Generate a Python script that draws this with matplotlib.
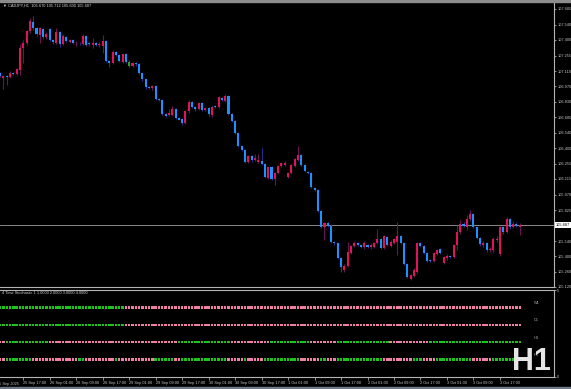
import matplotlib.pyplot as plt
import matplotlib.transforms as mtransforms
from matplotlib.patches import Rectangle

plt.rcParams['font.family'] = ['Liberation Sans', 'DejaVu Sans']

#///////////////////////////////////////////////////////////////
# CADJPY H1 candles, 25 Sep 10:00 -> 3 Oct 23:00 (158 bars)
#///////////////////////////////////////////////////////////////
opens = [
    107.094, 107.048, 107.066, 107.057, 107.094, 107.085, 107.122, 107.325, 107.371, 107.482,
    107.565, 107.509, 107.445, 107.500, 107.426, 107.500, 107.399, 107.371, 107.472, 107.362,
    107.426, 107.380, 107.399, 107.366, 107.375, 107.362, 107.436, 107.371, 107.352, 107.371,
    107.352, 107.343, 107.389, 107.205, 107.186, 107.288, 107.260, 107.195, 107.269, 107.195,
    107.158, 107.186, 107.177, 107.094, 107.038, 106.964, 106.955, 106.974, 106.854, 106.844,
    106.715, 106.705, 106.705, 106.761, 106.678, 106.669, 106.632, 106.742, 106.826, 106.780,
    106.761, 106.817, 106.752, 106.770, 106.705, 106.789, 106.780, 106.863, 106.835, 106.881,
    106.715, 106.650, 106.540, 106.420, 106.383, 106.272, 106.327, 106.290, 106.272, 106.281,
    106.253, 106.124, 106.226, 106.114, 106.170, 106.235, 106.244, 106.133, 106.170, 106.235,
    106.290, 106.336, 106.244, 106.179, 106.170, 106.032, 106.013, 105.819, 105.671, 105.708,
    105.680, 105.533, 105.523, 105.385, 105.274, 105.311, 105.431, 105.496, 105.523, 105.505,
    105.487, 105.505, 105.487, 105.487, 105.523, 105.560, 105.477, 105.579, 105.496, 105.523,
    105.533, 105.588, 105.523, 105.330, 105.191, 105.219, 105.256, 105.523, 105.496, 105.431,
    105.367, 105.357, 105.422, 105.468, 105.339, 105.385, 105.404, 105.394, 105.505, 105.625,
    105.699, 105.671, 105.745, 105.791, 105.671, 105.570, 105.505, 105.523, 105.459, 105.459,
    105.551, 105.422, 105.671, 105.625, 105.745, 105.671, 105.699, 105.670,
]
highs = [
    107.103, 107.075, 107.075, 107.112, 107.103, 107.140, 107.362, 107.399, 107.491, 107.602,
    107.620, 107.519, 107.519, 107.509, 107.472, 107.509, 107.408, 107.509, 107.482, 107.454,
    107.436, 107.408, 107.408, 107.389, 107.380, 107.454, 107.445, 107.380, 107.417, 107.380,
    107.380, 107.445, 107.399, 107.214, 107.306, 107.297, 107.269, 107.279, 107.279, 107.214,
    107.195, 107.195, 107.186, 107.103, 107.048, 106.974, 106.983, 106.983, 106.863, 106.854,
    106.724, 106.761, 106.789, 106.770, 106.687, 106.678, 106.752, 106.844, 106.835, 106.789,
    106.826, 106.826, 106.780, 106.780, 106.789, 106.798, 106.881, 106.872, 106.900, 106.890,
    106.724, 106.660, 106.549, 106.429, 106.392, 106.336, 106.336, 106.346, 106.346, 106.401,
    106.262, 106.235, 106.235, 106.179, 106.244, 106.272, 106.281, 106.179, 106.253, 106.309,
    106.420, 106.346, 106.253, 106.188, 106.179, 106.041, 106.022, 105.828, 105.717, 105.717,
    105.699, 105.542, 105.533, 105.394, 105.330, 105.533, 105.505, 105.542, 105.533, 105.514,
    105.542, 105.514, 105.523, 105.533, 105.653, 105.570, 105.597, 105.588, 105.551, 105.570,
    105.717, 105.597, 105.533, 105.339, 105.237, 105.293, 105.533, 105.533, 105.505, 105.440,
    105.376, 105.440, 105.468, 105.477, 105.404, 105.422, 105.413, 105.514, 105.690, 105.736,
    105.717, 105.782, 105.828, 105.801, 105.680, 105.579, 105.542, 105.533, 105.487, 105.579,
    105.588, 105.680, 105.680, 105.764, 105.754, 105.727, 105.717, 105.712,
]
lows = [
    107.057, 106.946, 106.983, 107.048, 107.075, 107.075, 107.075, 107.186, 107.352, 107.463,
    107.491, 107.436, 107.371, 107.408, 107.408, 107.389, 107.362, 107.362, 107.334, 107.352,
    107.380, 107.371, 107.362, 107.343, 107.352, 107.352, 107.343, 107.343, 107.325, 107.343,
    107.334, 107.279, 107.195, 107.149, 107.177, 107.251, 107.195, 107.186, 107.186, 107.149,
    107.149, 107.158, 107.085, 107.020, 106.946, 106.946, 106.937, 106.844, 106.835, 106.705,
    106.687, 106.696, 106.696, 106.669, 106.660, 106.614, 106.623, 106.724, 106.770, 106.742,
    106.752, 106.742, 106.742, 106.696, 106.687, 106.770, 106.770, 106.835, 106.826, 106.705,
    106.641, 106.530, 106.410, 106.373, 106.262, 106.262, 106.272, 106.281, 106.262, 106.244,
    106.124, 106.114, 106.105, 106.059, 106.161, 106.226, 106.235, 106.124, 106.161, 106.226,
    106.281, 106.235, 106.179, 106.161, 106.032, 106.004, 105.810, 105.662, 105.551, 105.671,
    105.523, 105.505, 105.376, 105.256, 105.256, 105.302, 105.422, 105.487, 105.496, 105.477,
    105.468, 105.477, 105.468, 105.477, 105.514, 105.468, 105.468, 105.496, 105.487, 105.514,
    105.413, 105.514, 105.320, 105.200, 105.182, 105.210, 105.246, 105.487, 105.422, 105.348,
    105.348, 105.348, 105.413, 105.422, 105.330, 105.367, 105.385, 105.385, 105.459, 105.607,
    105.671, 105.644, 105.727, 105.662, 105.560, 105.496, 105.487, 105.440, 105.440, 105.440,
    105.533, 105.404, 105.607, 105.616, 105.653, 105.662, 105.671, 105.600,
]
closes = [
    107.066, 107.066, 107.057, 107.094, 107.085, 107.131, 107.325, 107.371, 107.482, 107.574,
    107.509, 107.454, 107.509, 107.426, 107.454, 107.399, 107.380, 107.472, 107.362, 107.436,
    107.389, 107.399, 107.371, 107.375, 107.366, 107.436, 107.352, 107.357, 107.371, 107.352,
    107.362, 107.389, 107.205, 107.186, 107.288, 107.260, 107.205, 107.269, 107.195, 107.158,
    107.186, 107.172, 107.094, 107.038, 106.964, 106.955, 106.974, 106.854, 106.844, 106.715,
    106.696, 106.724, 106.761, 106.678, 106.664, 106.632, 106.742, 106.826, 106.780, 106.761,
    106.817, 106.752, 106.770, 106.715, 106.780, 106.775, 106.872, 106.844, 106.881, 106.715,
    106.650, 106.540, 106.420, 106.383, 106.272, 106.327, 106.290, 106.309, 106.290, 106.253,
    106.133, 106.226, 106.114, 106.170, 106.235, 106.262, 106.262, 106.170, 106.244, 106.299,
    106.336, 106.244, 106.188, 106.166, 106.041, 106.013, 105.819, 105.671, 105.708, 105.680,
    105.533, 105.519, 105.385, 105.302, 105.311, 105.440, 105.496, 105.523, 105.505, 105.491,
    105.523, 105.487, 105.505, 105.523, 105.560, 105.477, 105.588, 105.505, 105.533, 105.560,
    105.588, 105.523, 105.330, 105.210, 105.228, 105.274, 105.523, 105.496, 105.431, 105.357,
    105.353, 105.431, 105.459, 105.431, 105.394, 105.404, 105.394, 105.505, 105.625, 105.699,
    105.685, 105.745, 105.791, 105.671, 105.570, 105.514, 105.523, 105.459, 105.468, 105.560,
    105.560, 105.671, 105.625, 105.745, 105.671, 105.699, 105.680, 105.687,
]
green_bars = [39]   # the odd green candle on 29 Sep

price_ticks = [107.685, 107.540, 107.400, 107.255, 107.110, 106.970, 106.830, 106.685, 106.540,
               106.400, 106.255, 106.115, 105.970, 105.825, 105.540, 105.400, 105.260, 105.120]

first_label = '25 Sep 2025'
time_labels = ['25 Sep 17:00', '26 Sep 01:00', '26 Sep 09:00', '26 Sep 17:00', '29 Sep 01:00',
               '29 Sep 09:00', '29 Sep 17:00', '30 Sep 01:00', '30 Sep 09:00', '30 Sep 17:00',
               '1 Oct 01:00', '1 Oct 09:00', '1 Oct 17:00', '2 Oct 01:00', '2 Oct 09:00',
               '2 Oct 17:00', '3 Oct 01:00', '3 Oct 09:00', '3 Oct 17:00']

# 4 Time Stochastic: (g=green / p=pink, number of bars)
w1_runs = [('g', 38), ('p', 120)]
d1_runs = [('g', 38), ('p', 120)]
h4_runs = [('p', 2), ('g', 13), ('p', 39), ('g', 16), ('p', 12), ('g', 12), ('p', 8),
           ('g', 16), ('p', 12), ('g', 28)]
h1_runs = [('p', 2), ('g', 8), ('p', 14), ('g', 2), ('p', 9), ('g', 1), ('p', 11), ('g', 6),
           ('p', 2), ('g', 14), ('p', 5), ('g', 1), ('p', 5), ('g', 11), ('p', 6), ('g', 2),
           ('p', 3), ('g', 14), ('p', 9), ('g', 3), ('p', 4), ('g', 11), ('p', 6), ('g', 9)]
row_names = ['W1', 'D1', 'H4', 'H1']

W, H = 571, 389
fs = 2.8           # tiny MT4 label font
txt_col = '#c8c8c8'
frame_col = '#b4b4b4'

fig = plt.figure(figsize=(W / 100, H / 100), dpi=100, facecolor='black')
ax = fig.add_axes([0, 102 / H, 554 / W, 284 / H], facecolor='black')
ax2 = fig.add_axes([0, 12 / H, 554 / W, 87 / H], facecolor='black')

# window border strips
fig.patches.append(Rectangle((0, 1 - 2 / H), 1, 2 / H, transform=fig.transFigure,
                             color='#8c8c8c', zorder=0))
fig.patches.append(Rectangle((0, 0), 1, 2 / H, transform=fig.transFigure,
                             color='#6e7a88', zorder=0))

#///////////////////////////////////////////////////////////////
# candles
#///////////////////////////////////////////////////////////////
n = len(closes)
idx = list(range(n))
body_cols = []
wick_cols = []
bottoms = []
heights = []
for i in idx:
    o = opens[i]
    c = closes[i]
    if i in green_bars:
        body_cols.append('#22a022')
        wick_cols.append('#1a6a1a')
    elif c >= o:
        body_cols.append('#e0145a')
        wick_cols.append('#6a1458')
    else:
        body_cols.append('#1e90ff')
        wick_cols.append('#2c2a8c')
    bottoms.append(min(o, c))
    heights.append(max(abs(c - o), 0.009))

ax.axhline(closes[-1], color='#8a8a8a', lw=0.7, zorder=1)
ax.vlines(idx, lows, highs, colors=wick_cols, lw=0.8, zorder=2)
ax.bar(idx, heights, bottom=bottoms, width=0.62, color=body_cols, lw=0, zorder=3)

ax.set_xlim(-0.03, 167.34)
ax.set_ylim(105.117, 107.740)
ax.set_xticks([])
ax.yaxis.tick_right()
ax.set_yticks(price_ticks)
ax.set_yticklabels([f'{v:.3f}' for v in price_ticks])
ax.tick_params(axis='y', colors=txt_col, labelsize=fs, length=1.5, width=0.5, pad=0.8)
for s in ['left', 'top']:
    ax.spines[s].set_visible(False)
for s in ['right', 'bottom']:
    ax.spines[s].set_color(frame_col)
    ax.spines[s].set_linewidth(0.8)

# current price box
ax.text(1.003, closes[-1], f'{closes[-1]:.3f}', fontsize=fs, color='black', va='center',
        ha='left', transform=mtransforms.blended_transform_factory(ax.transAxes, ax.transData),
        bbox=dict(facecolor='white', edgecolor='none', pad=0.6), clip_on=False)

fig.text(3 / W, 1 - 5.5 / H,
         f'\u25bc CADJPY,H1  {opens[-1]:.3f} {highs[-1]:.3f} {lows[-1]:.3f} {closes[-1]:.3f}',
         fontsize=fs, color='#d8d8d8', va='center', ha='left')

#///////////////////////////////////////////////////////////////
# indicator window
#///////////////////////////////////////////////////////////////
palette = {'g': '#1cc41c', 'p': '#f07fa8'}
rows = [w1_runs, d1_runs, h4_runs, h1_runs]
row_y = [4, 3, 2, 1]
blend2 = mtransforms.blended_transform_factory(ax2.transAxes, ax2.transData)
for runs, y, name in zip(rows, row_y, row_names):
    cols = []
    for key, count in runs:
        cols += [palette[key]] * count
    ax2.scatter(idx, [y] * n, c=cols, marker='s', s=3, linewidths=0)
    ax2.text(0.963, y + 0.25, name, fontsize=fs, color='#a8a8a8', va='center', ha='left',
             transform=blend2)

ax2.text(0.003, 0.965, '4 Time Stochastic 1 1.0000 2.0000 3.0000 4.0000', fontsize=fs,
         color='#d8d8d8', va='center', ha='left', transform=ax2.transAxes)

ax2.set_xlim(-0.03, 167.34)
ax2.set_ylim(0, 5)
ax2.yaxis.tick_right()
ax2.set_yticks([0, 5])
ax2.set_yticklabels(['0', '5'])
ax2.tick_params(axis='y', colors=txt_col, labelsize=fs, length=1.5, width=0.5, pad=0.8)

tick_idx = list(range(7, n, 8))
ax2.set_xticks(tick_idx)
ax2.set_xticklabels(time_labels)
for lbl in ax2.get_xticklabels():
    lbl.set_ha('left')
ax2.tick_params(axis='x', colors=txt_col, labelsize=fs, length=2, width=0.5, pad=1.2)
ax2.text(-1, -0.08, first_label, fontsize=fs, color=txt_col, va='center', ha='left',
         transform=mtransforms.blended_transform_factory(ax2.transData, ax2.transAxes),
         clip_on=False)

ax2.spines['left'].set_visible(False)
for s in ['right', 'top', 'bottom']:
    ax2.spines[s].set_color(frame_col)
    ax2.spines[s].set_linewidth(0.8)

# big timeframe tag
fig.text(531 / W, 19 / H, 'H1', fontsize=22, family='Liberation Sans', weight='bold',
         color='#e6e6e6', ha='center', va='baseline')

fig.savefig('out.png', dpi=100, facecolor='black')
